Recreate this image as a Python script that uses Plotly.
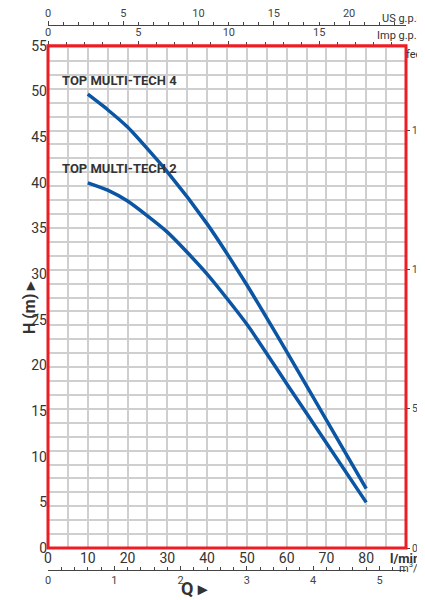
import plotly.graph_objects as go

q_lmin = [10, 15, 20, 30, 40, 50, 60, 70, 80]
h_mt4 = [49.7, 48.0, 46.1, 41.2, 35.5, 28.8, 21.5, 14.0, 6.5]
h_mt2 = [40.0, 39.2, 38.0, 34.6, 30.0, 24.5, 18.0, 11.5, 5.0]
names = ["TOP MULTI-TECH 4", "TOP MULTI-TECH 2"]

QMAX = 90
HMAX = 55
FONT = "Liberation Sans Narrow, Roboto, Arial"
grey = "#444"

fig = go.Figure()
for h in (h_mt4, h_mt2):
    fig.add_trace(go.Scatter(x=q_lmin, y=h, mode="lines",
                             line=dict(color="#0b56a4", width=3.5, shape="spline", smoothing=0.6),
                             showlegend=False))
# invisible traces so the extra axes get drawn
for xa, ya in [("x2", "y"), ("x3", "y"), ("x4", "y"), ("x", "y2")]:
    fig.add_trace(go.Scatter(x=[0], y=[0], xaxis=xa, yaxis=ya, mode="markers",
                             marker=dict(opacity=0), showlegend=False, hoverinfo="skip"))

top, bot = 0.952, 0.0862
minor_tick = dict(ticks="outside", ticklen=3, tickcolor=grey)
fig.update_layout(
    width=425, height=600, plot_bgcolor="white", paper_bgcolor="white",
    margin=dict(l=40, r=27, t=10, b=10, autoexpand=False),
    font=dict(family=FONT, color=grey, size=11),
    xaxis=dict(domain=[0, 1], range=[0, QMAX], tickvals=list(range(0, 81, 10)), showgrid=False,
               minor=dict(dtick=5, showgrid=True, gridcolor="#cfcfcf", gridwidth=1.5),
               tickfont=dict(size=14, color="#333"), ticks="", zeroline=False, anchor="y"),
    yaxis=dict(domain=[bot, top], range=[0, HMAX], dtick=5, showgrid=False, zeroline=False,
               tickfont=dict(size=14, color="#333"), ticks=""),
    yaxis2=dict(overlaying="y", side="right", range=[0, HMAX / 0.3048], tickvals=[0, 50, 100, 150],
                showgrid=False, ticks="outside", ticklen=3, tickcolor=grey, zeroline=False,
                tickfont=dict(size=10),
                minor=dict(dtick=5, showgrid=True, gridcolor="#cfcfcf", gridwidth=1.5, ticks="")),
    xaxis2=dict(overlaying="x", anchor="free", position=0.988, side="top", range=[0, QMAX / 3.785],
                tickvals=[0, 5, 10, 15, 20], showline=True, linecolor=grey, ticks="outside", ticklen=4,
                tickcolor=grey, minor=dict(dtick=1, **minor_tick),
                showgrid=False, zeroline=False, tickfont=dict(size=11)),
    xaxis3=dict(overlaying="x", anchor="y", side="top", range=[0, QMAX / 4.546],
                tickvals=[0, 5, 10, 15], ticks="outside", ticklen=4, tickcolor=grey,
                minor=dict(dtick=1, **minor_tick),
                showgrid=False, zeroline=False, tickfont=dict(size=11)),
    xaxis4=dict(overlaying="x", anchor="free", position=0.048, side="bottom", range=[0, QMAX * 0.06],
                tickvals=[0, 1, 2, 3, 4, 5], showline=True, linecolor=grey, ticks="inside", ticklen=4,
                tickcolor=grey, minor=dict(dtick=0.2, ticks="inside", ticklen=3, tickcolor=grey),
                showgrid=False, zeroline=False, tickfont=dict(size=11)),
)
fig.add_shape(type="rect", xref="x domain", yref="y domain", x0=0, x1=1, y0=0, y1=1,
              line=dict(color="#ee1c25", width=3), layer="above")

for y, t in [(50.2, names[0]), (40.5, names[1])]:
    fig.add_annotation(x=3, y=y, text="<b>" + t + "</b>", xref="x", yref="y", xanchor="left",
                       yanchor="bottom", showarrow=False, font=dict(size=13, color="#333"))
for x, y, t, s in [(1.07, 0.985, "US g.p.m.", 11), (1.07, 0.955, "Imp g.p.m.", 11),
                   (1.06, top - 0.03, "feet", 11), (1.045, bot - 0.035, "<b>l/min</b>", 13),
                   (1.055, 0.036, "m<sup>3</sup>/h", 11)]:
    fig.add_annotation(x=x, y=y, xref="paper", yref="paper", text=t, showarrow=False,
                       xanchor="right", yanchor="bottom", font=dict(size=s, color="#333"))
fig.add_annotation(x=0.41, y=-0.005, xref="paper", yref="paper", text="<b>Q ▸</b>", showarrow=False,
                   font=dict(size=18, color="#333"), yanchor="bottom")
fig.add_annotation(x=-0.085, y=0.5, xref="paper", yref="paper", text="<b>H (m) ▸</b>", showarrow=False,
                   textangle=-90, font=dict(size=16, color="#333"))

fig.write_html("out.html")
